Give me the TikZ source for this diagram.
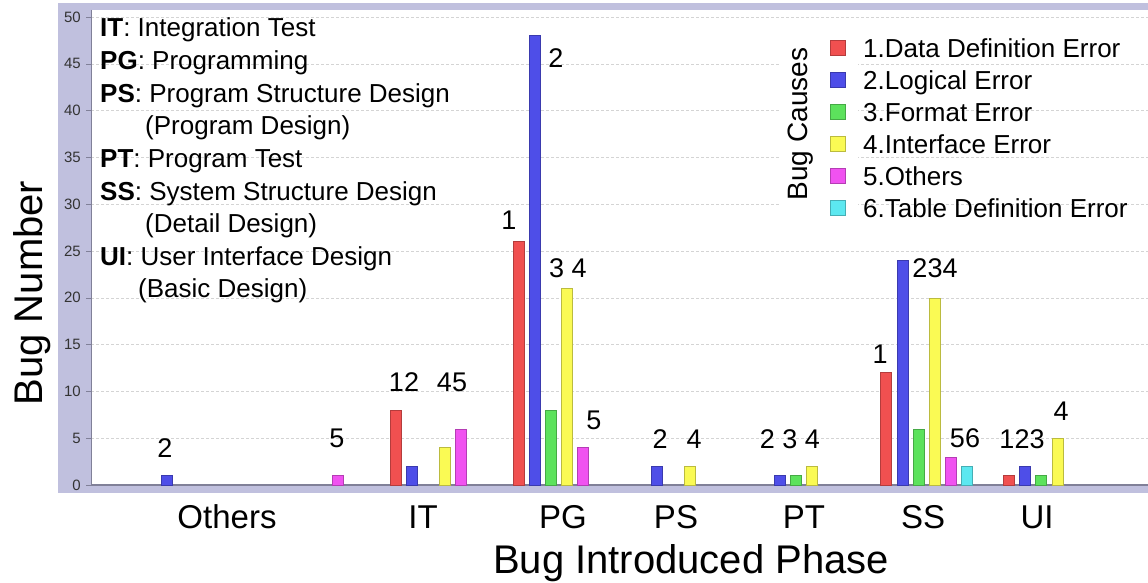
\documentclass[tikz,border=0pt]{standalone}
\usepackage{fontspec}
\setmainfont{Liberation Sans}
\usetikzlibrary{positioning}
\definecolor{frameband}{RGB}{192,192,222}
\definecolor{axisgrey}{RGB}{128,128,152}
\definecolor{gridgrey}{RGB}{212,212,212}
\definecolor{cred}{RGB}{240,80,80}
\definecolor{cblue}{RGB}{78,78,232}
\definecolor{cgreen}{RGB}{92,226,92}
\definecolor{cyellow}{RGB}{250,250,84}
\definecolor{cmagenta}{RGB}{240,82,240}
\definecolor{ccyan}{RGB}{92,232,240}
\newcommand{\fsz}[1]{\fontsize{#1}{#1}\selectfont}

\begin{document}
\begin{tikzpicture}[x=1pt, y=-1pt,
    bar/.style={draw=#1!75!black, line width=0.6pt, fill=#1},
    barlab/.style={font=\fsz{27}, inner sep=0pt},
    ticklab/.style={font=\fsz{15}, text=black!80, anchor=east, inner sep=0pt},
    catlab/.style={font=\fsz{33}, anchor=base, inner sep=0pt},
    keytext/.style={font=\fsz{26}, anchor=base west, inner sep=0pt},
    keybox/.style={fill=#1, draw=#1!75!black, line width=0.6pt, minimum size=15pt, inner sep=0pt}]
  \useasboundingbox (0,0) rectangle (1148,583);

  \fill[frameband] (58,3) rectangle (1148,493);
  \fill[white] (91,10) rectangle (1148,485);
  \foreach \v in {5,10,...,50}
    \draw[gridgrey, dash pattern=on 3pt off 2pt] (91,{485-9.36*\v}) -- (1148,{485-9.36*\v});
  \foreach \v in {0,5,...,50} {
    \draw[axisgrey] (86,{485-9.36*\v}) -- (91,{485-9.36*\v});
    \node[ticklab] (tick\v) at (81,{485-9.36*\v}) {\v};
  }
  \draw[axisgrey, line width=1.5pt] (91,485) -- (1148,485);
  \draw[axisgrey, line width=1pt] (91,10) -- (91,485);

  \foreach \g/\s/\v/\col in {0/2/1/cblue, 1/5/1/cmagenta,
      2/1/8/cred, 2/2/2/cblue, 2/4/4/cyellow, 2/5/6/cmagenta,
      3/1/26/cred, 3/2/48/cblue, 3/3/8/cgreen, 3/4/21/cyellow, 3/5/4/cmagenta,
      4/2/2/cblue, 4/4/2/cyellow,
      5/2/1/cblue, 5/3/1/cgreen, 5/4/2/cyellow,
      6/1/12/cred, 6/2/24/cblue, 6/3/6/cgreen, 6/4/20/cyellow, 6/5/3/cmagenta, 6/6/2/ccyan,
      7/1/1/cred, 7/2/2/cblue, 7/3/1/cgreen, 7/4/5/cyellow}
    \path[bar=\col] ({145+122.6*\g+16.2*(\s-1)},485) rectangle ++(11,{-9.36*\v});

  \node[barlab] (n0) at (165,448) {2};
  \node[barlab] (n1) at (337,438) {5};
  \node[barlab] (n2a) at (404,382) {12};
  \node[barlab] (n2b) at (452,382) {45};
  \node[barlab] (n3a) at (509,220) {1};
  \node[barlab] (n3b) at (556,58) {2};
  \node[barlab] (n3c) at (568,268) {3 4};
  \node[barlab] (n3d) at (594,420) {5};
  \node[barlab] (n4a) at (660,439) {2};
  \node[barlab] (n4b) at (694,439) {4};
  \node[barlab] (n5) at (790,439) {2 3 4};
  \node[barlab] (n6a) at (880,354) {1};
  \node[barlab] (n6b) at (935,268) {234};
  \node[barlab] (n6c) at (965,438) {56};
  \node[barlab] (n7a) at (1022,439) {123};
  \node[barlab] (n7b) at (1061,411) {4};

  \node[keytext] (ph1) at (100,37) {\textbf{IT}: Integration Test};
  \node[keytext] (ph2) at (100,69.6) {\textbf{PG}: Programming};
  \node[keytext] (ph3) at (100,102.2) {\textbf{PS}: Program Structure Design};
  \node[keytext] (ph3b) at (145,134.8) {(Program Design)};
  \node[keytext] (ph4) at (100,167.4) {\textbf{PT}: Program Test};
  \node[keytext] (ph5) at (100,200) {\textbf{SS}: System Structure Design};
  \node[keytext] (ph5b) at (145,232.6) {(Detail Design)};
  \node[keytext] (ph6) at (100,265.2) {\textbf{UI}: User Interface Design};
  \node[keytext] (ph6b) at (138,297.8) {(Basic Design)};

  \fill[white] (780,30) rectangle (858,224);
  \node[font=\fsz{28}, rotate=90, anchor=base, inner sep=0pt] (causes) at (807,124) {Bug Causes};
  \foreach \k/\col/\txt in {0/cred/1.Data Definition Error, 1/cblue/2.Logical Error,
      2/cgreen/3.Format Error, 3/cyellow/4.Interface Error,
      4/cmagenta/5.Others, 5/ccyan/6.Table Definition Error} {
    \node[keybox=\col] (key\k) at (838,{48+32*\k}) {};
    \node[keytext] (cause\k) at (863,{57.5+32*\k}) {\txt};
  }

  \node[catlab] (cat0) at (227,528) {Others};
  \node[catlab] (cat1) at (423,528) {IT};
  \node[catlab] (cat2) at (563,528) {PG};
  \node[catlab] (cat3) at (676,528) {PS};
  \node[catlab] (cat4) at (804,528) {PT};
  \node[catlab] (cat5) at (923,528) {SS};
  \node[catlab] (cat6) at (1037,528) {UI};

  \node[font=\fsz{40}, anchor=base, inner sep=0pt] (xtitle) at (691,573) {Bug Introduced Phase};
  \node[font=\fsz{40}, rotate=90, anchor=base, inner sep=0pt] (ytitle) at (42,293) {Bug Number};
\end{tikzpicture}
\end{document}
